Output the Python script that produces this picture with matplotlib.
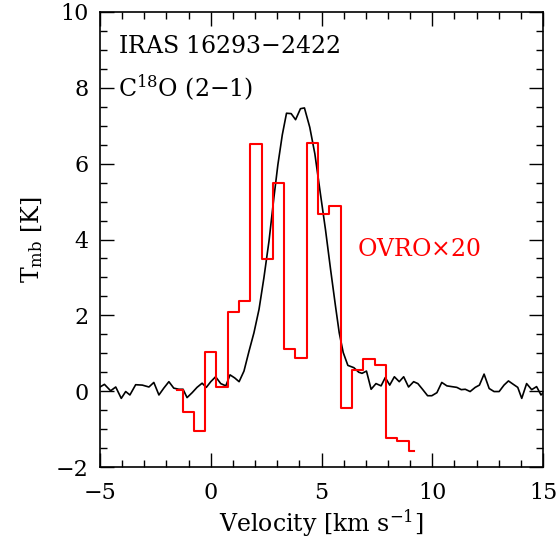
import numpy as np
import matplotlib
matplotlib.use("Agg")
import matplotlib.pyplot as plt

# single-dish C18O spectrum
vel_sd = [-5.00, -4.80, -4.52, -4.29, -4.04, -3.84, -3.65, -3.39, -3.09, -2.79,
          -2.57, -2.34, -2.12, -1.89, -1.67, -1.44, -1.25, -1.07, -0.84, -0.62,
          -0.39, -0.20, 0.00, 0.22, 0.45, 0.68, 0.87, 1.08, 1.28, 1.50,
          1.73, 1.95, 2.18, 2.40, 2.63, 2.85, 3.03, 3.23, 3.42, 3.63,
          3.83, 4.05, 4.23, 4.47, 4.70, 4.94, 5.18, 5.41, 5.63, 5.80,
          5.98, 6.19, 6.46, 6.68, 6.83, 7.03, 7.24, 7.46, 7.69, 7.88,
          8.08, 8.29, 8.51, 8.71, 8.93, 9.16, 9.35, 9.56, 9.79, 9.98,
          10.21, 10.43, 10.66, 10.88, 11.11, 11.31, 11.49, 11.71, 11.94, 12.13,
          12.34, 12.57, 12.79, 13.02, 13.24, 13.44, 13.66, 13.86, 14.04, 14.26,
          14.49, 14.71, 14.91, 15.00]
tmb_sd = [0.11, 0.18, 0.01, 0.11, -0.19, -0.01, -0.10, 0.17, 0.16, 0.11,
          0.23, -0.10, 0.08, 0.25, 0.08, 0.05, 0.05, -0.17, -0.04, 0.10,
          0.21, 0.10, 0.25, 0.38, 0.20, 0.14, 0.43, 0.35, 0.25, 0.53,
          1.06, 1.54, 2.16, 2.99, 3.96, 5.10, 5.97, 6.76, 7.33, 7.32,
          7.16, 7.45, 7.47, 6.96, 6.26, 5.25, 4.26, 3.21, 2.25, 1.54,
          1.02, 0.68, 0.62, 0.50, 0.47, 0.53, 0.05, 0.20, 0.14, 0.36,
          0.16, 0.38, 0.25, 0.38, 0.11, 0.25, 0.20, 0.05, -0.12, -0.12,
          -0.04, 0.23, 0.14, 0.12, 0.10, 0.04, 0.05, -0.01, 0.10, 0.16,
          0.45, 0.07, -0.01, -0.01, 0.16, 0.27, 0.18, 0.10, -0.19, 0.20,
          0.04, 0.12, -0.10, -0.05]

# OVRO interferometer spectrum (x20)
vel_ovro = [-1.53, -1.02, -0.51, 0.00, 0.51, 1.02, 1.53, 2.04, 2.55, 3.06,
            3.57, 4.08, 4.59, 5.10, 5.61, 6.12, 6.63, 7.14, 7.65, 8.16,
            8.67, 9.19]
tmb_ovro = [0.03, -0.54, -1.06, 1.04, 0.10, 2.08, 2.39, 6.51, 3.48, 5.49,
            1.11, 0.87, 6.54, 4.68, 4.89, -0.44, 0.56, 0.84, 0.70, -1.23,
            -1.31, -1.58]

plt.rcParams['font.family'] = ['DejaVu Serif']
plt.rcParams['mathtext.fontset'] = 'dejavuserif'

fig = plt.figure(figsize=(5.6, 5.47), dpi=100)
ax = fig.add_axes([100 / 560, 80 / 547, 443 / 560, 455 / 547])

ax.plot(vel_sd, tmb_sd, color='black', lw=1.2)
ax.step(vel_ovro, tmb_ovro, where='mid', color='red', lw=1.5)

ax.set_xlim(-5, 15)
ax.set_ylim(-2, 10)
ax.set_xticks([-5, 0, 5, 10, 15])
ax.set_yticks([-2, 0, 2, 4, 6, 8, 10])
ax.set_xticks(np.arange(-5, 15.1, 1), minor=True)
ax.set_yticks(np.arange(-2, 10.1, 0.5), minor=True)
ax.tick_params(which='both', direction='in', top=True, right=True,
               labelsize=16, width=1.0)
ax.tick_params(axis='x', which='both', pad=11)
ax.tick_params(axis='y', which='both', pad=8)
ax.tick_params(which='major', length=10)
ax.tick_params(which='minor', length=5)
for s in ax.spines.values():
    s.set_linewidth(1.2)

ax.set_xlabel(r'Velocity [km s$^{-1}$]', fontsize=17, labelpad=2)
ax.set_ylabel(r'T$_{\rm mb}$ [K]', fontsize=17, labelpad=8)

ax.text(0.04, 0.925, r'IRAS 16293$-$2422', transform=ax.transAxes,
        fontsize=17, va='center', ha='left')
ax.text(0.04, 0.833, r'C$^{18}$O (2$-$1)', transform=ax.transAxes,
        fontsize=17, va='center', ha='left')
ax.text(0.58, 0.477, r'OVRO$\times$20', transform=ax.transAxes,
        fontsize=17, va='center', ha='left', color='red')

fig.savefig('out.png', dpi=100)
